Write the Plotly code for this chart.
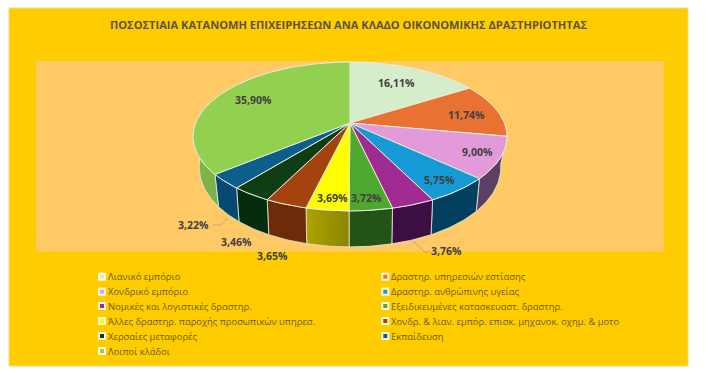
import math
import plotly.graph_objects as go

TITLE = "ΠΟΣΟΣΤΙΑΙΑ ΚΑΤΑΝΟΜΗ ΕΠΙΧΕΙΡΗΣΕΩΝ ΑΝΑ ΚΛΑΔΟ ΟΙΚΟΝΟΜΙΚΗΣ ΔΡΑΣΤΗΡΙΟΤΗΤΑΣ"
categories = [
    "Λιανικό εμπόριο",
    "Δραστηρ. υπηρεσιών εστίασης",
    "Χονδρικό εμπόριο",
    "Δραστηρ. ανθρώπινης υγείας",
    "Νομικές και λογιστικές δραστηρ.",
    "Εξειδικευμένες κατασκευαστ. δραστηρ.",
    "Άλλες δραστηρ. παροχής προσωπικών υπηρεσ.",
    "Χονδρ. & λιαν. εμπόρ. επισκ. μηχανοκ. οχημ. & μοτο",
    "Χερσαίες μεταφορές",
    "Εκπαίδευση",
    "Λοιποί κλάδοι",
]
values = [16.11, 11.74, 9.00, 5.75, 3.76, 3.72, 3.69, 3.65, 3.46, 3.22, 35.90]

top_colors = ["#D6EDCB", "#E97132", "#E29ADB", "#159AD6", "#A02B93", "#4EA72E",
              "#FFFF00", "#A5430F", "#0F3D14", "#0B5F8A", "#92D050"]
wall_left = ["#A8C09A", "#A04E20", "#5C4064", "#033F5E", "#3D0E44", "#225418",
             "#ADA400", "#6C2C0A", "#062C10", "#064A74", "#7DB34A"]
wall_right = ["#A8C09A", "#A04E20", "#5C4064", "#033F5E", "#3D0E44", "#225418",
              "#8C8400", "#6C2C0A", "#062C10", "#064A74", "#7DB34A"]

# label centres, leader lines and legend layout (page pixels)
label_pos = [(396, 83), (466, 115), (477, 152), (439, 180), (446, 251), (366, 198),
             (332, 198), (272, 256), (236, 242), (193, 225), (253, 100)]
leaders = [([213, 220, 228], [225, 225, 218]), ([413, 425, 431], [241, 252, 252])]
legend_rows = [276.7, 291.7, 306, 321, 336, 351]
legend_cols = [102, 385.3]

CX, CY = 350, 123          # pie centre
A, B, K = 154.4, 72, 0.181  # perspective projection of the disc
BORDER = "#E8ECD8"


def project(t, bottom=False):
    u, v = math.sin(t), -math.cos(t)
    d = 1 - K * v
    x, y = A * u / d, B * v / d
    if bottom:  # the lower rim is narrower and drops further towards the viewer
        x *= 0.955 + 0.03 * v
        y += 26 + 10 * v
    return CX + x, CY + y


def arc(t0, t1):
    n = max(2, int((t1 - t0) / 0.02))
    return [t0 + (t1 - t0) * i / n for i in range(n + 1)]


def mix(c0, c1, f):
    a = [int(c0[i:i + 2], 16) for i in (1, 3, 5)]
    b = [int(c1[i:i + 2], 16) for i in (1, 3, 5)]
    return "#%02x%02x%02x" % tuple(round(p + (q - p) * f) for p, q in zip(a, b))


def wall_points(t0, t1):
    seg = arc(t0, t1)
    return [project(t) for t in seg] + [project(t, True) for t in reversed(seg)]


def poly(pts, fill, line, width, name=None):
    xs = [p[0] for p in pts] + [pts[0][0]]
    ys = [p[1] for p in pts] + [pts[0][1]]
    fig.add_trace(go.Scatter(x=xs, y=ys, mode="lines", fill="toself", fillcolor=fill,
                             line=dict(color=line, width=width), name=name,
                             hoverinfo="name" if name else "skip", showlegend=False))


edges = [0.0]
for val in values:
    edges.append(edges[-1] + val / sum(values) * 2 * math.pi)

fig = go.Figure()

# side walls; the top faces cover the hidden parts
for i, val in enumerate(values):
    t0, t1 = edges[i], edges[i + 1]
    if wall_left[i] != wall_right[i]:
        strips = 14
        for s in range(strips):
            a0 = t0 + (t1 - t0) * s / strips
            a1 = t0 + (t1 - t0) * (s + 1.4) / strips
            # the gradient runs left to right on the page, slices run right to left
            col = mix(wall_right[i], wall_left[i], (s + 0.5) / strips)
            poly(wall_points(a0, min(a1, t1)), col, col, 0)
        poly(wall_points(t0, t1), "rgba(0,0,0,0)", BORDER, 0.8)
    else:
        poly(wall_points(t0, t1), wall_left[i], BORDER, 0.8)

# top faces
for i, val in enumerate(values):
    pts = [(CX, CY)] + [project(t) for t in arc(edges[i], edges[i + 1])]
    poly(pts, top_colors[i], BORDER, 1, categories[i])

# leader lines
for lx, ly in leaders:
    fig.add_trace(go.Scatter(x=lx, y=ly, mode="lines", line=dict(color="#BFA870", width=1),
                             hoverinfo="skip", showlegend=False))

# legend swatches
for i, cat in enumerate(categories):
    x, y = legend_cols[i % 2], legend_rows[i // 2]
    fig.add_trace(go.Scatter(x=[x], y=[y], mode="markers",
                             marker=dict(symbol="square", size=8, color="#FFF8D8"),
                             hoverinfo="skip", showlegend=False))
    fig.add_trace(go.Scatter(x=[x], y=[y], mode="markers",
                             marker=dict(symbol="square", size=4, color=top_colors[i]),
                             hoverinfo="skip", showlegend=False))
    fig.add_annotation(x=x + 3.5, y=y, text=cat, showarrow=False, xanchor="left", yanchor="middle",
                       font=dict(family="Open Sans", size=9.4, color="#6E5C12"))

# data labels
for val, (lx, ly) in zip(values, label_pos):
    fig.add_annotation(x=lx, y=ly, text=f"{val:.2f}%".replace(".", ","), showarrow=False,
                       font=dict(family="Open Sans", size=10.5, color="#404040", weight="bold"))

fig.add_annotation(x=348, y=24, text=TITLE, showarrow=False,
                   font=dict(family="Open Sans", size=11.1, color="#595345", weight="bold"))

fig.update_layout(
    width=712, height=375, margin=dict(l=0, r=0, t=0, b=0),
    paper_bgcolor="#FFFFFF", plot_bgcolor="#FFFFFF", showlegend=False,
    xaxis=dict(range=[0, 712], visible=False, fixedrange=True),
    yaxis=dict(range=[375, 0], visible=False, fixedrange=True),
    shapes=[
        dict(type="rect", x0=9, x1=688, y0=8, y1=366, layer="below",
             fillcolor="#FFCC00", line=dict(color="#F3D98A", width=1)),
        dict(type="rect", x0=36, x1=664, y0=61, y1=251.5, layer="below",
             fillcolor="#FFC966", line=dict(width=0)),
    ],
)
fig.write_html("out.html", config={"displayModeBar": False},
               post_script="document.body.style.margin='0';document.body.style.overflow='hidden';")
